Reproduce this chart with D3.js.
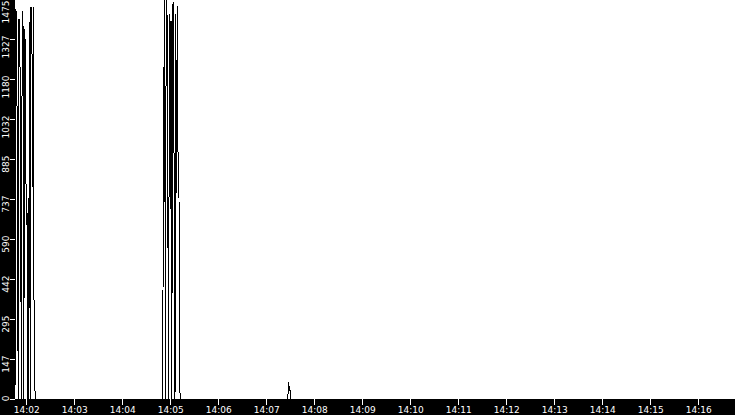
<!DOCTYPE html>
<html>
<head>
<meta charset="utf-8">
<script src="https://cdn.jsdelivr.net/npm/d3@7"></script>
<style>
  html, body { margin: 0; padding: 0; background: #fff; }
  svg { display: block; }
  .axis text { font-family: "DejaVu Sans", sans-serif; font-size: 9px; fill: #fff; }
  .axis line { stroke: #fff; shape-rendering: crispEdges; }
</style>
</head>
<body>
<script>
// samples (time of day, value)
var sampleTimes = [
  "14:01:46", "14:01:47", "14:01:48", "14:01:49", "14:01:50", "14:01:51",
  "14:01:52", "14:01:53", "14:01:54", "14:01:55", "14:01:56", "14:01:57",
  "14:01:58", "14:01:59", "14:02:00", "14:02:01", "14:02:02", "14:02:03",
  "14:02:04", "14:02:05", "14:02:06", "14:02:07", "14:02:08", "14:02:09",
  "14:02:10", "14:02:11", "14:02:12",
  "14:04:50", "14:04:51", "14:04:52", "14:04:53", "14:04:54", "14:04:55",
  "14:04:56", "14:04:57", "14:04:58", "14:04:59", "14:05:00", "14:05:01",
  "14:05:02", "14:05:03", "14:05:04", "14:05:05", "14:05:06", "14:05:07",
  "14:05:08", "14:05:09", "14:05:10", "14:05:11", "14:05:12", "14:05:13",
  "14:07:27", "14:07:28", "14:07:29", "14:07:30", "14:07:31",
  "14:16:46"
];
var sampleValues = [
  0, 1438, 1416, 760, 0, 1401,
  1394, 740, 0, 1431, 1405, 0,
  1364, 1290, 640, 700, 0, 0,
  1390, 0, 1446, 1440, 780, 1446,
  30, 30, 0,
  0, 390, 1130, 1475, 0, 1475,
  1430, 760, 0, 1420, 700, 1395,
  0, 1455, 1460, 740, 0, 1420,
  760, 1450, 750, 740, 30, 0,
  0, 64, 30, 30, 0,
  0
];

var xStart = "14:01:46";
var xEnd = "14:16:46";
var xTickLabels = ["14:02", "14:03", "14:04", "14:05", "14:06", "14:07", "14:08",
  "14:09", "14:10", "14:11", "14:12", "14:13", "14:14", "14:15", "14:16"];

var yMax = 1475;
var yTickValues = [0, 147.5, 295, 442.5, 590, 737.5, 885, 1032.5, 1180, 1327.5, 1475];
var yTickLabels = ["0", "147", "295", "442", "590", "737", "885", "1032", "1180", "1327", "1475"];

var W = 735, H = 415;
var left = 15, bottom = 399;

var parseT = d3.timeParse("%H:%M:%S");
var parseM = d3.timeParse("%H:%M");

var data = sampleTimes.map(function(t, i) {
  return { t: parseT(t), v: sampleValues[i] };
});

var svg = d3.select("body").append("svg")
  .attr("width", W)
  .attr("height", H);

var x = d3.scaleTime()
  .domain([parseT(xStart), parseT(xEnd)])
  .range([left, W]);

var y = d3.scaleLinear()
  .domain([0, yMax])
  .range([bottom, -1]);

svg.append("rect")
  .attr("x", 0).attr("y", 0)
  .attr("width", W).attr("height", H)
  .attr("fill", "#fff");

// the series
var line = d3.line()
  .x(function(d) { return x(d.t); })
  .y(function(d) { return y(d.v); });

svg.append("path")
  .datum(data)
  .attr("d", line)
  .attr("fill", "none")
  .attr("stroke", "#000")
  .attr("stroke-width", 1)
  .style("shape-rendering", "crispEdges");

// black bands behind the axes
svg.append("rect")
  .attr("x", 0).attr("y", 0)
  .attr("width", left).attr("height", H)
  .attr("fill", "#000");

svg.append("rect")
  .attr("x", 0).attr("y", bottom)
  .attr("width", W).attr("height", H - bottom)
  .attr("fill", "#000");

// bottom axis
var xAxis = svg.append("g")
  .attr("class", "axis")
  .attr("transform", "translate(0," + bottom + ")")
  .call(d3.axisBottom(x)
    .tickValues(xTickLabels.map(parseM))
    .tickFormat(d3.timeFormat("%H:%M"))
    .tickSize(6)
    .tickSizeOuter(0));

xAxis.select(".domain").remove();
xAxis.selectAll("text").attr("y", 8);

// left axis, labels turned on their side
var yAxis = svg.append("g")
  .attr("class", "axis")
  .attr("transform", "translate(" + left + ",0)")
  .call(d3.axisLeft(y)
    .tickValues(yTickValues)
    .tickFormat(function(d, i) { return yTickLabels[i]; })
    .tickSize(5)
    .tickSizeOuter(0));

yAxis.select(".domain").remove();
yAxis.selectAll("text")
  .attr("x", 0)
  .attr("y", 0)
  .attr("dy", 0)
  .attr("text-anchor", "end")
  .attr("transform", function(d) {
    var top = Math.max(y(d) - 4, 0) - y(d);
    return "translate(-6," + top + ") rotate(-90)";
  });
</script>
</body>
</html>
